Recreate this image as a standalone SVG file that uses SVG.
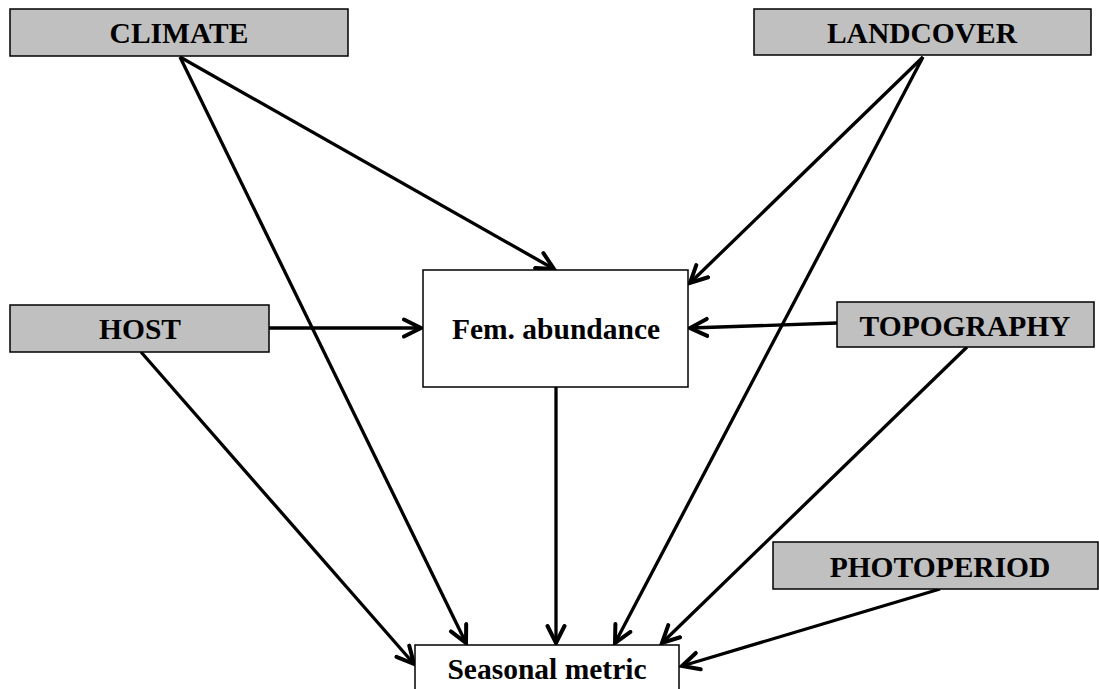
<svg xmlns="http://www.w3.org/2000/svg" width="1099" height="689" viewBox="0 0 1099 689">
<style>
.box{fill:#c0c0c0;stroke:#000;stroke-width:1.5}
.wbox{fill:#fff;stroke:#000;stroke-width:1.5}
.t{font-family:"Liberation Serif","Times New Roman",serif;font-weight:bold;font-size:29.5px;text-anchor:middle;fill:#000}
.c{stroke:#000;stroke-width:3.3;fill:none;marker-end:url(#ah)}
</style>
<defs>
<marker id="ah" markerUnits="userSpaceOnUse" markerWidth="28" markerHeight="28" refX="19" refY="10" orient="auto" viewBox="0 0 28 20">
<polyline points="2,1.5 19,10 2,18.5" fill="none" stroke="#000" stroke-width="4" stroke-linecap="round" stroke-linejoin="miter"/>
</marker>
</defs>
<g id="connectors">
<line class="c" x1="180" y1="57" x2="554" y2="269"/>
<line class="c" x1="180" y1="57" x2="466" y2="643"/>
<line class="c" x1="923" y1="57" x2="690" y2="283"/>
<line class="c" x1="923" y1="57" x2="615" y2="643"/>
<line class="c" x1="269" y1="328" x2="421" y2="328"/>
<line class="c" x1="141" y1="352" x2="414" y2="664"/>
<line class="c" x1="837" y1="323" x2="690" y2="328"/>
<line class="c" x1="967" y1="347" x2="662" y2="643"/>
<line class="c" x1="940" y1="589" x2="682" y2="666"/>
<line class="c" x1="556" y1="387" x2="556" y2="643"/>
</g>
<g id="climate">
<rect class="box" x="10" y="9" width="338" height="47"/>
<text class="t" x="179" y="43">CLIMATE</text>
</g>
<g id="landcover">
<rect class="box" x="754" y="9" width="337" height="46"/>
<text class="t" x="922" y="43">LANDCOVER</text>
</g>
<g id="host">
<rect class="box" x="10" y="305" width="259" height="47"/>
<text class="t" x="140" y="339">HOST</text>
</g>
<g id="fem">
<rect class="wbox" x="423" y="270" width="265" height="117"/>
<text class="t" x="556" y="339">Fem. abundance</text>
</g>
<g id="topography">
<rect class="box" x="837" y="302" width="257" height="45"/>
<text class="t" x="965" y="336">TOPOGRAPHY</text>
</g>
<g id="photoperiod">
<rect class="box" x="773" y="542" width="325" height="47"/>
<text class="t" x="940" y="577">PHOTOPERIOD</text>
</g>
<g id="seasonal">
<rect class="wbox" x="415" y="645" width="264" height="60"/>
<text class="t" x="547" y="679">Seasonal metric</text>
</g>
</svg>
